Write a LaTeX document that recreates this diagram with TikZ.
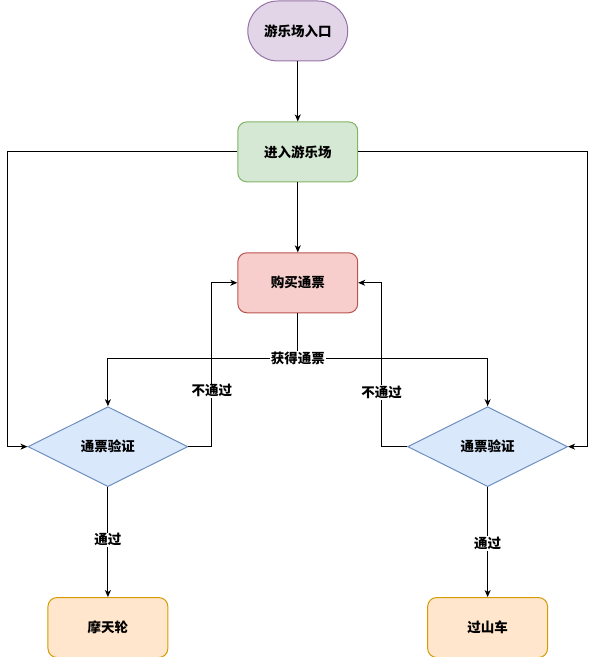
\documentclass[tikz,border=0pt]{standalone}
\usepackage{fontspec}
\setmainfont{Noto Sans CJK SC}
\usepackage{tikz}
\usetikzlibrary{shapes.geometric,arrows.meta,positioning}
\definecolor{startfill}{HTML}{E1D5E7}\definecolor{startline}{HTML}{9673A6}
\definecolor{enterfill}{HTML}{D5E8D4}\definecolor{enterline}{HTML}{82B366}
\definecolor{buyfill}{HTML}{F8CECC}\definecolor{buyline}{HTML}{B85450}
\definecolor{checkfill}{HTML}{DAE8FC}\definecolor{checkline}{HTML}{6C8EBF}
\definecolor{ridefill}{HTML}{FFE6CC}\definecolor{rideline}{HTML}{D79B00}
\tikzset{every node/.style={font=\fontsize{13.5pt}{16pt}\selectfont\bfseries},
  box/.style={draw,rounded corners=9pt,minimum width=120pt,minimum height=60pt},
  check/.style={diamond,draw=checkline,fill=checkfill,aspect=2,minimum width=160pt,minimum height=80pt,inner sep=0pt},
  lbl/.style={fill=white,inner sep=1pt}}

\begin{document}
\begin{tikzpicture}[x=1pt,y=-1pt,line width=1pt,>={Stealth[length=7pt,width=6pt,inset=2pt]}]
    \useasboundingbox (0,0) rectangle (596,657.5);
    \node (start) [box,draw=startline,fill=startfill,rounded corners=30pt,minimum width=100pt] at (298,31) {游乐场入口};
    \node (enter) [box,draw=enterline,fill=enterfill,below=60pt of start] {进入游乐场};
    \node (buy) [box,draw=buyline,fill=buyfill,below=70pt of enter] {购买通票};
    \node (chkL) [check] at (108,447) {通票验证};
    \node (chkR) [check] at (488,447) {通票验证};
    \node (wheel) [box,draw=rideline,fill=ridefill,below=110pt of chkL] {摩天轮};
    \node (coaster) [box,draw=rideline,fill=ridefill,below=110pt of chkR] {过山车};
    \coordinate (farL) at (8,447);
    \coordinate (farR) at (588,447);
    \coordinate (split) at (298,359);
    \coordinate (backL) at (212,447);
    \coordinate (backR) at (382,447);
    \draw[->] (start) -- (enter);
    \draw[->] (enter) -- (buy);
    \draw[->] (enter.west) -| (farL) -- (chkL.west);
    \draw[->] (enter.east) -| (farR) -- (chkR.east);
    \draw (buy.south) -- (split);
    \draw[->] (split) -| (chkL.north);
    \draw[->] (split) -| (chkR.north);
    \node (got) [lbl] at (split) {获得通票};
    \draw[->] (chkL.east) -- (backL) |- node[lbl,pos=0.17] {不通过} (buy.west);
    \draw[->] (chkR.west) -- (backR) |- node[lbl,pos=0.165] {不通过} (buy.east);
    \draw[->] (chkL.south) -- node[lbl,pos=0.48] {通过} (wheel.north);
    \draw[->] (chkR.south) -- node[lbl,pos=0.51] {通过} (coaster.north);
\end{tikzpicture}
\end{document}
